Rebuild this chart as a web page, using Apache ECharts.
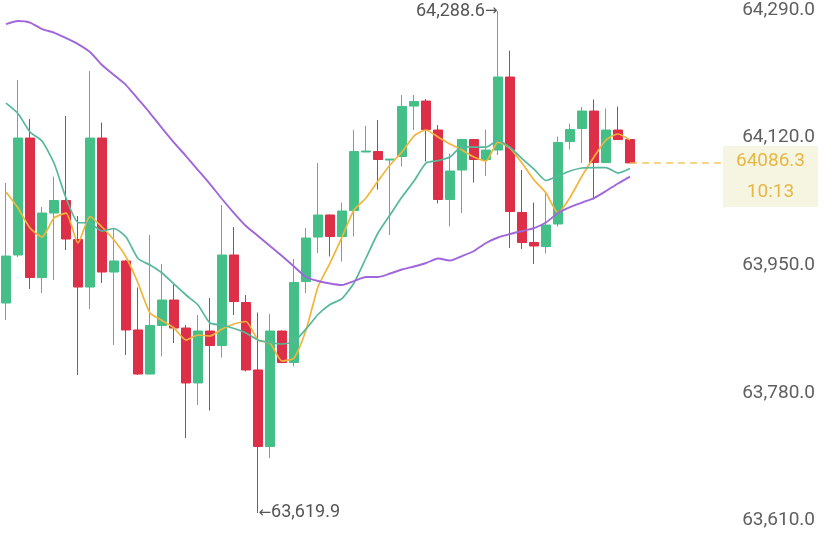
<!DOCTYPE html>
<html lang="en">

<head>
  <meta charset="UTF-8">
  <meta name="viewport" content="width=device-width, initial-scale=1.0">
  <title>K线</title>
  <script src="https://cdn.jsdelivr.net/npm/echarts@6.0.0/dist/echarts.min.js"></script>
  <style>
    html,
    body {
      height: 100%;
      margin: 0;
      padding: 0;
      background-color: #fff;
    }

    #kline {
      width: 829px;
      height: 533px;
    }
  </style>
</head>

<body>
  <div id="kline"></div>
  <script>
    // [open, close, low, high]
    const candles = [
      [63899.6, 63962.2, 63877.0, 64059.5],
      [63963.6, 64119.4, 63960.9, 64196.7],
      [64119.4, 63933.6, 63918.3, 64144.7],
      [63933.6, 64019.5, 63912.9, 64027.5],
      [64019.5, 64036.2, 63930.3, 64068.1],
      [64036.2, 63984.9, 63970.2, 64148.7],
      [63984.2, 63920.9, 63803.7, 64015.5],
      [63920.9, 64119.4, 63891.6, 64208.7],
      [64119.4, 63940.9, 63926.3, 64140.1],
      [63940.9, 63955.6, 63843.7, 63999.5],
      [63955.6, 63863.7, 63830.4, 63956.9],
      [63863.7, 63805.0, 63803.7, 63920.3],
      [63805.0, 63869.7, 63804.4, 63990.2],
      [63869.7, 63903.6, 63828.4, 63951.6],
      [63903.6, 63866.3, 63846.3, 63926.3],
      [63866.3, 63793.1, 63719.8, 63870.3],
      [63793.1, 63862.3, 63763.8, 63883.6],
      [63862.3, 63843.0, 63756.4, 63906.3],
      [63843.0, 63963.6, 63827.0, 64030.2],
      [63963.6, 63901.6, 63883.6, 64000.9],
      [63900.3, 63810.4, 63808.5, 63910.3],
      [63810.4, 63708.5, 63619.9, 63887.0],
      [63708.5, 63862.3, 63693.2, 63885.0],
      [63862.3, 63820.4, 63819.5, 63863.0],
      [63820.4, 63926.9, 63815.0, 63958.2],
      [63928.3, 63986.2, 63912.9, 63999.5],
      [63987.5, 64016.9, 63966.2, 64086.1],
      [64016.9, 63988.2, 63961.6, 64017.5],
      [63988.2, 64022.2, 63954.9, 64033.5],
      [64022.8, 64101.4, 63988.2, 64130.1],
      [64100.8, 64102.1, 64100.5, 64135.4],
      [64101.4, 64090.8, 64050.8, 64143.4],
      [64090.1, 64091.4, 63990.2, 64091.6],
      [64094.8, 64161.4, 64081.5, 64176.7],
      [64162.0, 64168.0, 64130.1, 64176.7],
      [64168.7, 64130.7, 64088.1, 64171.4],
      [64130.1, 64037.5, 64032.2, 64136.7],
      [64037.5, 64075.5, 64001.5, 64098.8],
      [64076.8, 64117.4, 64019.5, 64118.0],
      [64117.4, 64090.8, 64060.1, 64118.0],
      [64090.8, 64103.4, 64068.8, 64130.7],
      [64103.4, 64200.7, 64096.8, 64288.6],
      [64200.7, 64021.5, 63972.9, 64236.0],
      [64020.2, 63980.2, 63971.6, 64076.8],
      [63980.2, 63975.6, 63951.6, 64033.5],
      [63974.9, 64003.5, 63965.6, 64045.5],
      [64004.9, 64113.4, 64001.5, 64121.4],
      [64114.8, 64130.7, 64104.1, 64138.7],
      [64132.1, 64155.4, 64086.1, 64160.7],
      [64155.4, 64086.8, 64037.5, 64170.7],
      [64086.8, 64130.1, 64086.0, 64158.7],
      [64130.1, 64117.4, 64117.0, 64161.4],
      [64117.4, 64086.3, 64086.3, 64118.0]
    ];

    const ma7 = [64047.5, 64026.2, 63999.5, 63987.5, 64012.9, 64019.5, 63979.6, 64014.9, 64000.9, 63983.5,
      63960.9, 63926.3, 63886.3, 63876.3, 63866.3, 63850.3, 63857.0, 63855.7, 63865.0, 63871.7,
      63875.0, 63850.3, 63846.3, 63822.4, 63826.4, 63863.7, 63920.9, 63952.9, 63987.5, 64023.5,
      64039.5, 64062.1, 64083.5, 64100.8, 64122.1, 64130.1, 64120.8, 64111.4, 64103.4, 64094.1,
      64088.8, 64114.1, 64106.1, 64086.1, 64063.5, 64046.2, 64019.5, 64040.2, 64068.8, 64094.1,
      64116.8, 64124.8, 64116.8];

    const ma25 = [64166.0, 64152.1, 64127.4, 64115.4, 64086.1, 64039.5, 64006.9, 64006.2, 63995.5, 63998.9,
      63987.5, 63958.9, 63950.2, 63939.6, 63924.9, 63910.3, 63897.0, 63873.0, 63870.3, 63865.7,
      63859.7, 63850.3, 63847.0, 63845.0, 63848.3, 63865.0, 63884.3, 63897.6, 63905.6, 63926.3,
      63959.6, 63992.9, 64016.9, 64040.8, 64062.1, 64086.1, 64089.4, 64094.1, 64108.1, 64107.4,
      64107.4, 64116.1, 64106.8, 64092.1, 64078.1, 64062.8, 64068.8, 64075.5, 64079.5, 64080.1,
      64080.1, 64072.8, 64078.8];

    const ma99 = [64271.3, 64275.3, 64273.3, 64264.6, 64260.0, 64252.6, 64244.6, 64234.0, 64216.7, 64203.3,
      64190.0, 64171.4, 64152.7, 64132.7, 64113.4, 64095.4, 64076.8, 64058.1, 64038.2, 64019.5,
      64002.2, 63988.9, 63975.6, 63962.2, 63948.3, 63934.3, 63928.9, 63925.6, 63923.6, 63928.9,
      63934.3, 63934.3, 63938.9, 63944.3, 63948.3, 63952.9, 63958.9, 63956.2, 63962.2, 63968.9,
      63979.6, 63986.9, 63991.5, 63995.5, 63999.5, 64006.9, 64019.5, 64027.5, 64033.5, 64039.5,
      64048.8, 64058.8, 64068.1];

    // 右侧留白的空位
    const slotCount = 69;
    const cats = Array.from({ length: slotCount }, (_, i) => 'k' + i);
    const lastPrice = 64086.3;
    const countdown = '10:13';

    const green = '#45bf88';
    const red = '#dd2f47';

    function fmt(v) {
      return v.toFixed(1).replace(/\B(?=(\d{3})+(?!\d))/g, ',');
    }

    const markText = {
      color: '#555', fontFamily: 'Roboto', fontSize: 18,
      rich: {
        a: { fontFamily: 'DejaVu Sans', fontSize: 15, color: '#555' }
      }
    };

    const myChart = echarts.init(document.getElementById('kline'));
    const option = {
      animation: false,
      grid: { left: 0, right: 1, top: 10, bottom: 12.6 },
      xAxis: {
        type: 'category',
        data: cats,
        show: false
      },
      yAxis: {
        type: 'value',
        position: 'right',
        min: 63610,
        max: 64290,
        interval: 170,
        axisLine: { show: false },
        axisTick: { show: false },
        splitLine: { show: false },
        axisLabel: {
          inside: true,
          margin: 13,
          color: '#5f5f5f',
          fontFamily: 'Roboto',
          fontSize: 19,
          formatter: fmt
        }
      },
      series: [
        {
          type: 'candlestick',
          data: candles,
          barWidth: 10,
          itemStyle: {
            color: green,
            color0: red,
            borderColor: green,
            borderColor0: red,
            borderWidth: 1
          },
          markPoint: {
            silent: true,
            data: [
              {
                type: 'max', valueDim: 'highest',
                symbol: 'circle', symbolSize: 1,
                itemStyle: { color: 'transparent' },
                label: Object.assign({
                  show: true, position: 'left', distance: 0,
                  formatter: p => fmt(p.value) + '{a|→}'
                }, markText)
              },
              {
                type: 'min', valueDim: 'lowest',
                symbol: 'circle', symbolSize: 1,
                itemStyle: { color: 'transparent' },
                label: Object.assign({
                  show: true, position: 'right', distance: 0,
                  formatter: p => '{a|←}' + fmt(p.value)
                }, markText)
              },
              {
                coord: [cats[64], lastPrice],
                symbol: 'rect',
                symbolSize: [95, 61],
                symbolOffset: [-3.5, 13.6],
                itemStyle: { color: '#f6f5e2' },
                label: {
                  show: true, position: 'inside',
                  color: '#e7b743', fontFamily: 'Roboto', fontSize: 19, lineHeight: 31,
                  formatter: () => lastPrice.toFixed(1) + '\n' + countdown
                }
              }
            ]
          },
          markLine: {
            silent: true,
            symbol: 'none',
            label: { show: false },
            lineStyle: { color: '#eec151', type: [7, 5], width: 1.5, opacity: 0.9 },
            data: [[{ coord: [cats[52], lastPrice] }, { coord: [cats[60], lastPrice] }]]
          }
        },
        {
          type: 'line', data: ma7, showSymbol: false, smooth: 0.2,
          lineStyle: { color: '#f2b53c', width: 1.7 }
        },
        {
          type: 'line', data: ma25, showSymbol: false, smooth: 0.2,
          lineStyle: { color: '#55b89c', width: 1.7 }
        },
        {
          type: 'line', data: ma99, showSymbol: false, smooth: 0.2,
          lineStyle: { color: '#a066dc', width: 1.9 }
        }
      ]
    };
    myChart.setOption(option);
  </script>
</body>

</html>
